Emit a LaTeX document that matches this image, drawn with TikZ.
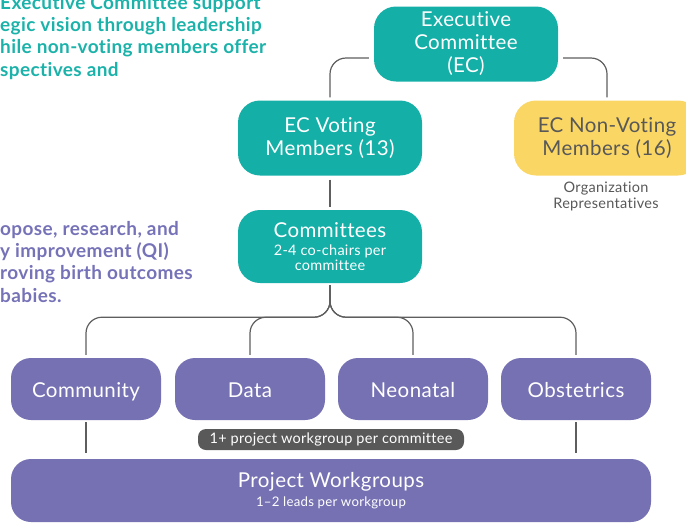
\documentclass[tikz,border=0pt]{standalone}
\usepackage{fontspec}
\setmainfont{Lato}[LetterSpace=2, Ligatures=CommonOff]
\usepackage{xcolor}
\usepackage{tikz}

\definecolor{ecteal}{HTML}{14AFA7}
\definecolor{ecyellow}{HTML}{FAD665}
\definecolor{compurple}{HTML}{7571B3}
\definecolor{linkgray}{HTML}{5E5E5E}
\definecolor{badgegray}{HTML}{595959}
\definecolor{notegray}{HTML}{585858}
\definecolor{sideteal}{HTML}{1BB2AA}
\definecolor{sidepurple}{HTML}{7672B8}

\newcommand{\subfont}{\fontsize{14.5}{16}\selectfont}

\begin{document}
\begin{tikzpicture}[x=1pt, y=-1pt,
    box/.style={rounded corners=22pt, align=center, inner sep=0pt, text=white, font=\fontsize{20.5}{23}\selectfont},
    tealbox/.style={box, fill=ecteal, minimum width=184pt, minimum height=75pt},
    purplebox/.style={box, fill=compurple, minimum width=150pt, minimum height=62pt, rounded corners=20pt, text height=20pt, text depth=4pt},
    sidenote/.style={align=left, inner sep=0pt, font=\fontsize{19}{22.3}\selectfont\bfseries},
    link/.style={draw=linkgray, line width=1.2pt, rounded corners=16pt}]
    \useasboundingbox (0,0) rectangle (686,523);
    \clip (0,0) rectangle (686,523);

    %side notes
    \node[sidenote, text=sideteal, anchor=north west] (ecnote) at (0,-5) {Executive Committee support\\egic vision through leadership\\hile non-voting members offer\\spectives and};
    \node[sidenote, text=sidepurple, anchor=north west] (comnote) at (0,221) {opose, research, and\\y improvement (QI)\\roving birth outcomes\\babies.};

    %executive committee
    \node[tealbox] (EC) at (466,44) {Executive\\Committee\\(EC)};
    \node[tealbox] (Voting) at (330,138) {EC Voting\\Members (13)};
    \node[tealbox, fill=ecyellow, text=notegray, minimum width=186pt] (NonVoting) at (607,138) {EC Non-Voting\\Members (16)};
    \node[align=center, text=notegray, font=\subfont] (OrgRep) at (606,196) {Organization\\Representatives};

    \path[link, shorten <=5pt, shorten >=3pt] ([yshift=-14pt]EC.west) -| (Voting.north);
    \path[link, shorten <=5pt, shorten >=3pt] ([yshift=-14pt]EC.east) -| (NonVoting.north);

    %committees
    \node[tealbox, minimum height=73pt] (Committees) at (330,246.5) {Committees\\[-5pt]{\subfont 2-4 co-chairs per}\\[-8pt]{\subfont committee}};
    \path[link, shorten <=4pt, shorten >=3pt] (Voting) -- (Committees);

    \node[purplebox] (Community) at (86,389) {Community};
    \node[purplebox] (Data) at (250,389) {Data};
    \node[purplebox] (Neonatal) at (413,389) {Neonatal};
    \node[purplebox] (Obstetrics) at (576,389) {Obstetrics};
    \foreach \c in {Community,Data,Neonatal,Obstetrics}
        \path[link, shorten <=2pt, shorten >=3pt] (Committees.south) -- ++(0,34) -| (\c.north);

    %workgroups
    \node[box, fill=compurple, minimum width=640pt, minimum height=63pt, rounded corners=20pt] (Project) at (331,490.5) {Project Workgroups\\[-4pt]{\fontsize{13.2}{16}\selectfont 1--2 leads per workgroup}};
    \path[link, shorten <=2pt, shorten >=6pt] (Community.south) -- (Community.south |- Project.north);
    \path[link, shorten <=2pt, shorten >=6pt] (Obstetrics.south) -- (Obstetrics.south |- Project.north);
    \node[fill=badgegray, text=white, rounded corners=8pt, minimum width=266pt, minimum height=21pt, inner sep=0pt, font=\subfont] (badge) at (331,439.5) {1+ project workgroup per committee};
  \end{tikzpicture}
\end{document}
